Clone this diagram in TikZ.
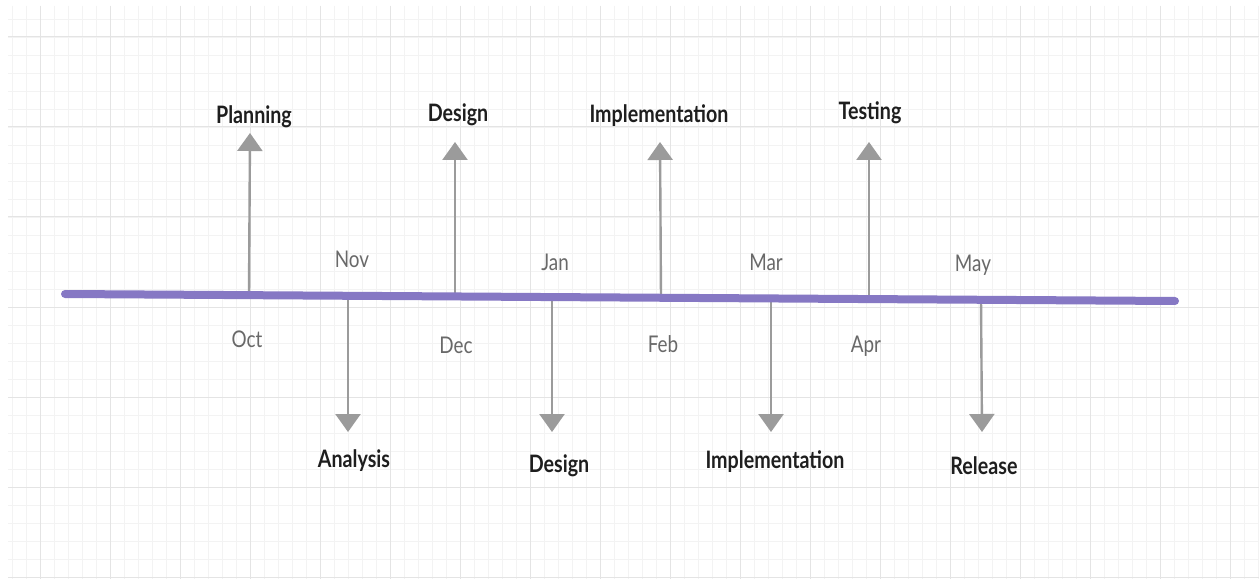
\documentclass[tikz,border=0pt]{standalone}
\usepackage{fontspec}
\usepackage{graphicx}
\setmainfont{Lato}
\usetikzlibrary{arrows.meta}
\definecolor{tl}{RGB}{134,120,196}
\definecolor{stemc}{RGB}{155,155,155}
\definecolor{gmaj}{RGB}{228,228,228}
\definecolor{gmin}{RGB}{243,243,243}
\definecolor{mon}{RGB}{105,105,105}
\definecolor{lab}{RGB}{30,30,30}
\newcommand\cnd[1]{\scalebox{0.82}[1]{#1}}
\begin{document}
\begin{tikzpicture}[x=1pt,y=-1pt,
  phase/.style={font=\fontsize{24}{24}\selectfont\bfseries, text=lab, anchor=base, inner sep=0pt},
  month/.style={font=\fontsize{23}{23}\selectfont, text=mon, anchor=base, inner sep=0pt},
  stemarrow/.style={draw=stemc, line width=2.4pt, -{Triangle[width=25pt,length=18pt,fill=stemc]}},
  timeline/.style={draw=tl, line width=8pt, line cap=round}]
\useasboundingbox (0,0) rectangle (1259,580);
\fill[white] (0,0) rectangle (1259,580);
% grid
\foreach \x in {12,26,...,1259} \draw[gmin, line width=0.8pt] (\x,6) -- (\x,579);
\foreach \y in {19,37,...,579} \draw[gmin, line width=0.8pt] (8,\y) -- (1259,\y);
\foreach \x in {40,110,...,1259} \draw[gmaj, line width=1pt] (\x,6) -- (\x,579);
\foreach \y in {37,127,...,579} \draw[gmaj, line width=1pt] (8,\y) -- (1259,\y);
% timeline ends
\coordinate (L) at (65,294);
\coordinate (R) at (1175,301);
% points on timeline
\coordinate (t1) at (249,295.2);
\coordinate (t2) at (348,295.8);
\coordinate (t3) at (455,296.5);
\coordinate (t4) at (552,297.1);
\coordinate (t5) at (661,297.8);
\coordinate (t6) at (771,298.5);
\coordinate (t7) at (869,299.1);
\coordinate (t8) at (981,299.8);
% arrow tips
\coordinate (a1) at (250,133);
\coordinate (a2) at (348,432);
\coordinate (a3) at (455,142);
\coordinate (a4) at (552,432);
\coordinate (a5) at (660,142);
\coordinate (a6) at (771,432);
\coordinate (a7) at (869,142);
\coordinate (a8) at (982,432);
\foreach \i in {1,...,8} \draw[stemarrow] (t\i) -- (a\i);
\draw[timeline] (L) -- (R);
% phase labels
\node[phase] (p1) at (254,124) {\cnd{Planning}};
\node[phase] (p2) at (354,467) {\cnd{Analysis}};
\node[phase] (p3) at (458,122) {\cnd{Design}};
\node[phase] (p4) at (559,472) {\cnd{Design}};
\node[phase] (p5) at (659,123) {\cnd{Implementation}};
\node[phase] (p6) at (775,468) {\cnd{Implementation}};
\node[phase] (p7) at (870,120) {\cnd{Testing}};
\node[phase] (p8) at (984,474) {\cnd{Release}};
% months
\node[month] (m1) at (247,347) {\cnd{Oct}};
\node[month] (m2) at (352,268) {\cnd{Nov}};
\node[month] (m3) at (456,353) {\cnd{Dec}};
\node[month] (m4) at (555,271) {\cnd{Jan}};
\node[month] (m5) at (663,352) {\cnd{Feb}};
\node[month] (m6) at (766,271) {\cnd{Mar}};
\node[month] (m7) at (866,352) {\cnd{Apr}};
\node[month] (m8) at (973,272) {\cnd{May}};
\end{tikzpicture}
\end{document}
